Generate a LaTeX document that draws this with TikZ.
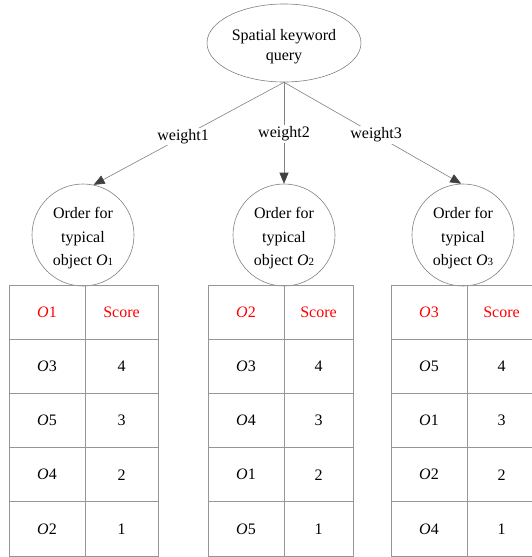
\documentclass[tikz,border=0pt]{standalone}
\usepackage{fontspec}
\setmainfont{Liberation Serif}
\usetikzlibrary{arrows.meta,shapes.geometric}
\definecolor{lg}{RGB}{128,128,128}
\definecolor{tg}{RGB}{150,150,150}
\definecolor{ah}{RGB}{64,64,64}
\newcommand{\stacklines}[2][3pt]{\raisebox{-#1}[\height][\depth]{\begin{tabular}{@{}c@{}}#2\end{tabular}}}
\begin{document}
\begin{tikzpicture}[x=1pt,y=-1pt,
  conn/.style={draw=lg, line width=0.6pt, -{Triangle[length=11pt,width=9pt,color=ah]}},
  wlabel/.style={fill=white, inner sep=1.5pt, font=\fontsize{16}{19}\selectfont},
  topq/.style={ellipse, draw=lg, line width=0.6pt, minimum width=154pt, minimum height=78pt, inner sep=0pt, font=\fontsize{16}{20}\selectfont},
  circ/.style={circle, draw=lg, line width=0.6pt, minimum size=102pt, inner sep=0pt, font=\fontsize{16}{23.5}\selectfont},
  cellbox/.style={draw=tg, line width=0.8pt, minimum height=54.2pt, inner sep=0pt, font=\fontsize{16}{19}\selectfont}
]
\useasboundingbox (0,0) rectangle (532,557);

\node[topq] (q) at (284,43) {\stacklines[3.5pt]{Spatial keyword\\query}};

\node[circ] (c1) at (83,235) {\stacklines[2.5pt]{Order for\\typical\\object \textit{O}{\fontsize{11}{11}\selectfont 1}}};
\node[circ] (c2) at (284,235) {\stacklines[2.5pt]{Order for\\typical\\object \textit{O}{\fontsize{11}{11}\selectfont 2}}};
\node[circ] (c3) at (463,235) {\stacklines[2.5pt]{Order for\\typical\\object \textit{O}{\fontsize{11}{11}\selectfont 3}}};

\draw[conn] (q.south) -- node[wlabel, pos=0.53] (w1) {weight1} (c1.78);
\draw[conn] (q.south) -- node[wlabel, pos=0.51] (w2) {weight2} (c2.north);
\draw[conn] (q.south) -- node[wlabel, pos=0.52] (w3) {weight3} (c3.92);

\foreach \t/\xl/\xs/\xr/\h/\ea/\eb/\ec/\ed in
  {1/9/85/158/1/3/5/4/2, 2/208/284/353/2/3/4/1/5, 3/391/467/536/3/5/1/2/4}{
  \pgfmathsetmacro{\wa}{\xs-\xl}
  \pgfmathsetmacro{\wb}{\xr-\xs}
  \pgfmathsetmacro{\ca}{(\xl+\xs)/2}
  \pgfmathsetmacro{\cb}{(\xs+\xr)/2}
  \node[cellbox, minimum width=\wa pt, text=red] (t\t h1) at (\ca,312.1) {\textit{O}\h};
  \node[cellbox, minimum width=\wb pt, text=red] (t\t h2) at (\cb,312.1) {Score};
  \foreach \e [count=\r] in {\ea,\eb,\ec,\ed}{
    \pgfmathtruncatemacro{\s}{5-\r}
    \pgfmathsetmacro{\yy}{312.1+54.2*\r}
    \node[cellbox, minimum width=\wa pt] (t\t r\r a) at (\ca,\yy) {\textit{O}\e};
    \node[cellbox, minimum width=\wb pt] (t\t r\r b) at (\cb,\yy) {\s};
  }
}
\end{tikzpicture}
\end{document}
